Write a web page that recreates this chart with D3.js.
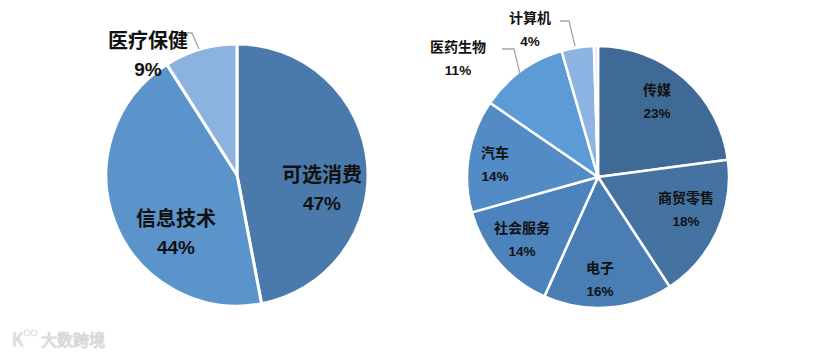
<!DOCTYPE html>
<html><head><meta charset="utf-8">
<script src="https://cdn.jsdelivr.net/npm/d3@7/dist/d3.min.js"></script>
<style>
html,body{margin:0;padding:0;background:#fff;}
svg{display:block;}
text{font-family:"Noto Sans CJK SC","Noto Sans",sans-serif;font-weight:bold;fill:#111;}
</style></head>
<body>
<svg id="c" width="834" height="355"></svg>
<script>
// ---- data ----
const leftCategories = ["可选消费", "信息技术", "医疗保健"];
const leftValues = [47, 44, 9];
const leftColors = ["#4a7aab", "#5a94ca", "#8cb3df"];

const rightCategories = ["传媒", "商贸零售", "电子", "社会服务", "汽车", "医药生物", "计算机", ""];
const rightValues = [23, 18, 16, 14, 14, 11, 4, 0.5];
const rightColors = ["#3f6a96", "#4473a2", "#4a7db4", "#4d83bc", "#528bc5", "#5c9bd6", "#8db4e2", "#dbe6f3"];

// ---- layout ----
const svg = d3.select("#c");

function drawPie(cfg) {
  const g = svg.append("g").attr("transform", `translate(${cfg.cx},${cfg.cy})`);
  const pie = d3.pie().sort(null).value(d => d.v);
  const arc = d3.arc().innerRadius(0).outerRadius(cfg.r);
  const data = cfg.cats.map((c, i) => ({c, v: cfg.vals[i], col: cfg.cols[i]}));
  const arcs = pie(data);
  g.selectAll("path").data(arcs).enter().append("path")
    .attr("d", arc)
    .attr("fill", d => d.data.col)
    .attr("stroke", "#fff")
    .attr("stroke-width", cfg.sw)
    .attr("stroke-linejoin", "round");
  // leader lines
  cfg.leaders.forEach(l => {
    g.append("polyline")
      .attr("points", l.map(p => p.join(",")).join(" "))
      .attr("fill", "none").attr("stroke", "#a6a6a6").attr("stroke-width", 1.3);
  });
  arcs.forEach((a, i) => {
    const p = cfg.labelPos[i];
    if (!p || !a.data.c) return;
    const t = g.append("text").attr("text-anchor", "middle")
      .attr("x", p[0]).attr("y", p[1]).style("font-size", cfg.fs + "px");
    t.append("tspan").attr("x", p[0]).text(a.data.c);
    t.append("tspan").attr("x", p[0]).attr("dy", cfg.lh)
      .style("font-family", "'Liberation Sans Narrow','Liberation Sans', Arial, sans-serif")
      .style("font-size", cfg.pfs + "px")
      .text(Math.round(a.data.v) + "%");
  });
}

drawPie({
  cx: 237, cy: 175, r: 131, sw: 3,
  cats: leftCategories, vals: leftValues, cols: leftColors,
  fs: 20, pfs: 19, lh: 28,
  labelPos: [[85, 7], [-61, 51], [-89, -127]],
  leaders: [[[-51, -142], [-45, -142], [-38, -126]]]
});

drawPie({
  cx: 598, cy: 177, r: 131, sw: 2.5,
  cats: rightCategories, vals: rightValues, cols: rightColors,
  fs: 14, pfs: 13.5, lh: 23,
  labelPos: [[59, -82], [88, 26], [2, 96], [-76, 56], [-103, -19], [-140, -125], [-68, -154]],
  leaders: [[[-96, -128], [-84, -128], [-78, -103]], [[-38, -156], [-29, -156], [-23, -131]]]
});

// watermark
const wm = svg.append("g").attr("opacity", 0.55);
wm.append("text").attr("x", 12).attr("y", 346).style("font-size", "17px")
  .style("fill", "#fff").style("stroke", "#bbb").style("stroke-width", 1.2)
  .style("font-weight", "normal").text("K");
wm.append("circle").attr("cx", 27).attr("cy", 333).attr("r", 3).attr("fill", "none").attr("stroke", "#bbb");
wm.append("circle").attr("cx", 34).attr("cy", 333).attr("r", 3).attr("fill", "none").attr("stroke", "#bbb");
wm.append("text").attr("x", 41).attr("y", 346).style("font-size", "16px")
  .style("fill", "#fff").style("stroke", "#bbb").style("stroke-width", 1.1)
  .style("font-weight", "normal").text("大数跨境");
</script>
</body></html>
